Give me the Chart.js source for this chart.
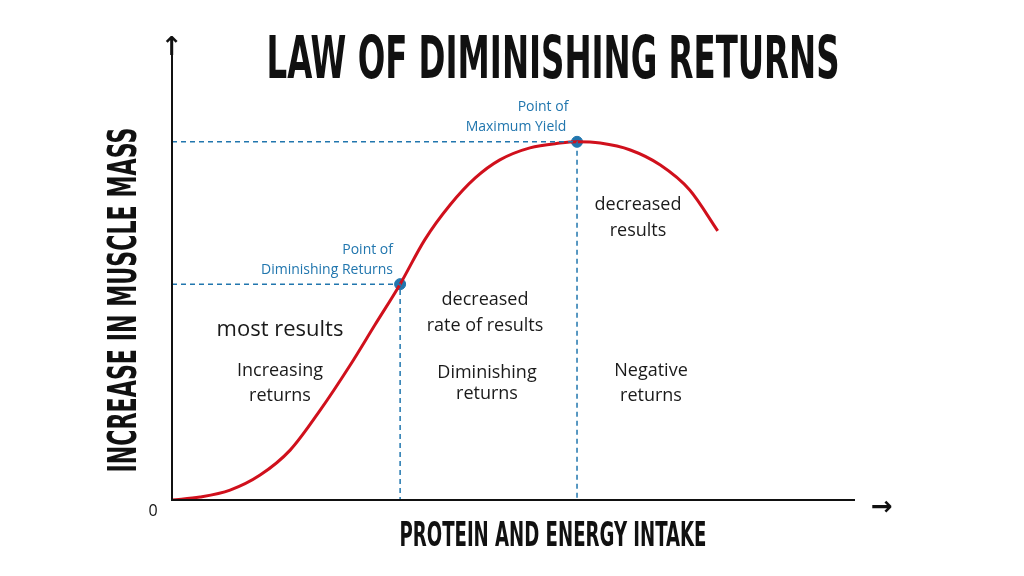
<!DOCTYPE html>
<html>
<head>
<meta charset="utf-8">
<script src="https://cdn.jsdelivr.net/npm/chart.js@4/dist/chart.umd.min.js"></script>
<style>
  html, body { margin: 0; padding: 0; background: #fff; }
  #wrap { width: 1024px; height: 576px; }
</style>
</head>
<body>
<div id="wrap"><canvas id="lawChart"></canvas></div>
<script>
// curve (x = intake, y = muscle gain), 0..100 units
const curveX = [0, 4.1, 8.5, 12.9, 17.3, 21.7, 26.1, 29.7, 33.4, 37.0, 40.7, 44.4, 48.0, 52.4, 56.8, 59.3, 62.7, 67.1, 71.5, 75.8, 79.9];
const curveY = [0, 0.7, 2.3, 5.8, 11.6, 20.9, 31.4, 40.7, 50.2, 60.5, 68.6, 74.9, 79.1, 81.9, 83.0, 83.3, 83.0, 81.4, 77.9, 72.1, 62.6];
const keyX = [33.4, 59.3];
const keyY = [50.2, 83.3];
const keyLabels = [["Point of", "Diminishing Returns"], ["Point of", "Maximum Yield"]];

const blue = "#2176ae";

function dashedGuide(i) {
  return {
    data: [{x: 0, y: keyY[i]}, {x: keyX[i], y: keyY[i]}, {x: keyX[i], y: 0}],
    borderColor: blue, borderWidth: 1.5, borderDash: [5, 4],
    pointRadius: 0, tension: 0, fill: false
  };
}

const textPlugin = {
  id: "texts",
  afterDraw(chart) {
    const ctx = chart.ctx, xs = chart.scales.x, ys = chart.scales.y;
    const a = chart.chartArea;
    ctx.save();
    // axes
    ctx.strokeStyle = "#111"; ctx.lineWidth = 2;
    ctx.beginPath();
    ctx.moveTo(a.left, 45); ctx.lineTo(a.left, a.bottom); ctx.lineTo(a.right, a.bottom);
    ctx.stroke();
    ctx.fillStyle = "#111";
    ctx.font = "bold 26px 'DejaVu Sans'";
    ctx.textAlign = "center"; ctx.textBaseline = "middle";
    ctx.fillText("↑", a.left, 48);
    ctx.fillText("→", 882, 508);
    ctx.font = "16px 'Open Sans'";
    ctx.fillText("0", 153, 511);

    // title
    ctx.save();
    ctx.font = "bold 56px 'DejaVu Sans Condensed'";
    let w = ctx.measureText("LAW OF DIMINISHING RETURNS").width;
    ctx.translate(553, 57);
    ctx.scale(573 / w, 1.05);
    ctx.textBaseline = "alphabetic";
    ctx.fillText("LAW OF DIMINISHING RETURNS", 0, 20);
    ctx.restore();

    // x axis label
    ctx.save();
    ctx.font = "bold 32px 'DejaVu Sans Condensed'";
    w = ctx.measureText("PROTEIN AND ENERGY INTAKE").width;
    ctx.translate(553, 537);
    ctx.scale(307 / w, 1.05);
    ctx.fillText("PROTEIN AND ENERGY INTAKE", 0, 0);
    ctx.restore();

    // y axis label
    ctx.save();
    ctx.font = "bold 38px 'DejaVu Sans Condensed'";
    w = ctx.measureText("INCREASE IN MUSCLE MASS").width;
    ctx.translate(126, 300);
    ctx.rotate(-Math.PI / 2);
    ctx.scale(345 / w, 1.05);
    ctx.fillText("INCREASE IN MUSCLE MASS", 0, 0);
    ctx.restore();

    // key point labels
    ctx.fillStyle = blue;
    ctx.font = "14px 'Open Sans'";
    ctx.textAlign = "right";
    ctx.fillText(keyLabels[0][0], 393, 250);
    ctx.fillText(keyLabels[0][1], 393, 270);
    ctx.textAlign = "center";
    ctx.fillText(keyLabels[1][0], 543, 107);
    ctx.fillText(keyLabels[1][1], 516, 127);

    // region texts
    ctx.fillStyle = "#1a1a1a";
    ctx.font = "22px 'Open Sans'";
    ctx.fillText("most results", 280, 330);
    ctx.font = "18px 'Open Sans'";
    [["decreased", 638, 205], ["results", 638, 231],
     ["decreased", 485, 300], ["rate of results", 485, 326],
     ["Increasing", 280, 371], ["returns", 280, 396],
     ["Diminishing", 487, 373], ["returns", 487, 394],
     ["Negative", 651, 371], ["returns", 651, 396]].forEach(t => ctx.fillText(t[0], t[1], t[2]));
    ctx.restore();
  }
};

new Chart(document.getElementById("lawChart"), {
  type: "line",
  data: {
    datasets: [
      dashedGuide(0),
      dashedGuide(1),
      {
        data: curveX.map((x, i) => ({x: x, y: curveY[i]})),
        borderColor: "#d0101c", borderWidth: 3, pointRadius: 0,
        cubicInterpolationMode: "monotone", fill: false
      },
      {
        data: keyX.map((x, i) => ({x: x, y: keyY[i]})),
        showLine: false, pointRadius: 5.5,
        pointBackgroundColor: blue, pointBorderColor: blue
      }
    ]
  },
  options: {
    responsive: true,
    maintainAspectRatio: false,
    animation: false,
    layout: { padding: { left: 172, right: 169, top: 70, bottom: 76 } },
    plugins: { legend: { display: false }, tooltip: { enabled: false } },
    scales: {
      x: { type: "linear", min: 0, max: 100, display: false },
      y: { min: 0, max: 100, display: false }
    }
  },
  plugins: [textPlugin]
});
</script>
</body>
</html>
